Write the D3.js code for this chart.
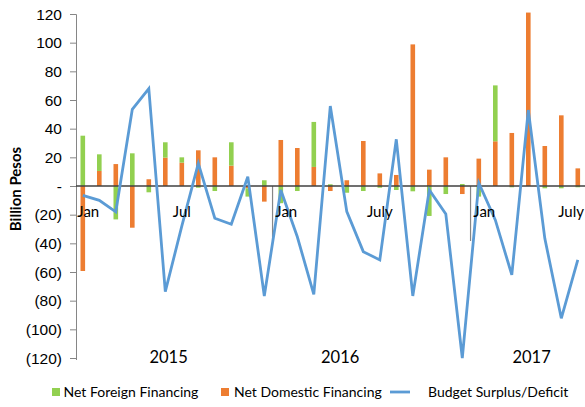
<!DOCTYPE html>
<html><head><meta charset="utf-8">
<script src="https://cdn.jsdelivr.net/npm/d3@7/dist/d3.min.js"></script>
<style>
html,body{margin:0;padding:0;background:#fff;}
svg{display:block;font-family:Lato,"Open Sans",sans-serif;}
</style></head>
<body><svg id="c" width="585" height="407"></svg>
<script>
const categories = ["2015-01","2015-02","2015-03","2015-04","2015-05","2015-06","2015-07","2015-08","2015-09","2015-10","2015-11","2015-12",
"2016-01","2016-02","2016-03","2016-04","2016-05","2016-06","2016-07","2016-08","2016-09","2016-10","2016-11","2016-12",
"2017-01","2017-02","2017-03","2017-04","2017-05","2017-06","2017-07"];
const netForeign = [35.1,11.6,-23.3,22.8,-4.4,10.7,3.7,-1.2,-3.5,16.3,-5.8,4.0,
  -12,-3.5,31.4,1.2,-4.7,-3.5,-1.2,-2.8,-3.7,-20.9,-5.6,1.4,
  -7.4,39,-0.9,0,-1.6,-1.6,-0.9];
const netDomestic = [-59.3,10.5,15.3,-29.1,4.7,19.8,16.3,24.9,20,14.2,-1.6,-10.9,
  32.1,26.5,13.3,-3.5,4,31.4,8.8,7.7,98.8,11.4,20,-5.6,
  19.1,31.2,37,121,27.9,49.3,12.3];
const budget = [-6.5,-10,-18,53.5,68,-73.7,-28,15.8,-22.5,-26.7,6.5,-76.7,
  -2.8,-35.4,-75.6,55.8,-17.9,-45.8,-51.6,32.6,-76.7,-2.8,-19.5,-120,
  2.1,-23.7,-62,53,-36.5,-92.3,-51.6];
const yTicks = [120,100,80,60,40,20,0,-20,-40,-60,-80,-100,-120];
const monthLabelIdx = [0,6,12,18,24,30];
const monthLabels = ["Jan","Jul","Jan","July","Jan","July"];
const years = ["2015","2016","2017"];
const yearPos = [5.2,15.6,27.2];
const yearBreaks = [12,24];
const seriesNames = ["Net Foreign Financing","Net Domestic Financing","Budget Surplus/Deficit"];

const colForeign = "#92D050", colDomestic = "#ED7D31", colLine = "#5B9BD5";
const svg = d3.select("#c");
const x = d3.scalePoint().domain(categories).range([82.8, 577.8]);
const step = x.step();
const y = d3.scaleLinear().domain([-120,120]).range([358,14]);
const fmt = v => v === 0 ? "-" : (v < 0 ? "(" + Math.abs(v) + ")" : String(v));

// y axis
const yAxis = d3.axisLeft(y).tickValues(yTicks).tickFormat(fmt).tickSize(6).tickPadding(8);
const gy = svg.append("g").attr("transform","translate(76,0)").call(yAxis);
gy.select(".domain").attr("stroke","#868686").attr("d","M-6,14.5H0.5V360");
gy.selectAll(".tick line").attr("stroke","#868686");
gy.selectAll(".tick text").attr("font-size",15.5).attr("fill","#000").attr("dy","0.34em");

// y title
svg.append("text").attr("transform","translate(21,189) rotate(-90)")
  .attr("text-anchor","middle").attr("font-size",15).attr("font-weight","bold").text("Billion Pesos");

// year separators
svg.selectAll("line.sep").data(yearBreaks).join("line")
  .attr("x1",d=>x(categories[d]) - step/2).attr("x2",d=>x(categories[d]) - step/2)
  .attr("y1",y(0)).attr("y2",241).attr("stroke","#868686").attr("stroke-width",1.2);

// stacked bars
const rows = categories.map((c,i)=>({cat:c, domestic:netDomestic[i], foreign:netForeign[i]}));
const stack = d3.stack().keys(["domestic","foreign"]).offset(d3.stackOffsetDiverging);
const layers = stack(rows);
const colors = {domestic:colDomestic, foreign:colForeign};
const bw = 4.6;
svg.append("g").selectAll("g").data(layers).join("g").attr("fill",d=>colors[d.key])
  .selectAll("rect").data(d=>d).join("rect")
  .attr("x",d=>x(d.data.cat)-bw/2).attr("width",bw)
  .attr("y",d=>y(Math.max(d[0],d[1])))
  .attr("height",d=>Math.abs(y(d[0])-y(d[1])));

// zero line
svg.append("line").attr("x1",76).attr("x2",585).attr("y1",y(0)).attr("y2",y(0))
  .attr("stroke","#404040").attr("stroke-width",1.3);

// line
const line = d3.line().x((d,i)=>x(categories[i])).y(d=>y(d));
svg.append("path").datum(budget).attr("d",line).attr("fill","none")
  .attr("stroke",colLine).attr("stroke-width",2.8).attr("stroke-linejoin","miter");

// month labels
svg.selectAll("text.m").data(monthLabelIdx).join("text")
  .attr("x",(d,i)=> i===monthLabels.length-1 ? 584 : x(categories[d]) + (monthLabels[i]==="Jan" ? 5.5 : 0))
  .attr("text-anchor",(d,i)=> i===monthLabels.length-1 ? "end" : "middle")
  .attr("y",217).attr("font-size",15).attr("fill","#000")
  .text((d,i)=>monthLabels[i]);

// year labels
svg.selectAll("text.yr").data(years).join("text")
  .attr("x",(d,i)=> x(categories[0]) + yearPos[i]*step)
  .attr("y",363).attr("text-anchor","middle").attr("font-size",16.5).attr("fill","#000").text(d=>d);

// legend
const lg = svg.append("g");
lg.append("rect").attr("x",52).attr("y",388).attr("width",8).attr("height",8).attr("fill",colForeign);
lg.append("text").attr("x",63.5).attr("y",396.5).attr("font-size",14).text(seriesNames[0]);
lg.append("rect").attr("x",221).attr("y",388).attr("width",8).attr("height",8).attr("fill",colDomestic);
lg.append("text").attr("x",234).attr("y",396.5).attr("font-size",14).text(seriesNames[1]);
lg.append("line").attr("x1",390).attr("x2",410).attr("y1",392).attr("y2",392).attr("stroke",colLine).attr("stroke-width",2.8);
lg.append("text").attr("x",428).attr("y",396.5).attr("font-size",14).text(seriesNames[2]);
</script></body></html>
